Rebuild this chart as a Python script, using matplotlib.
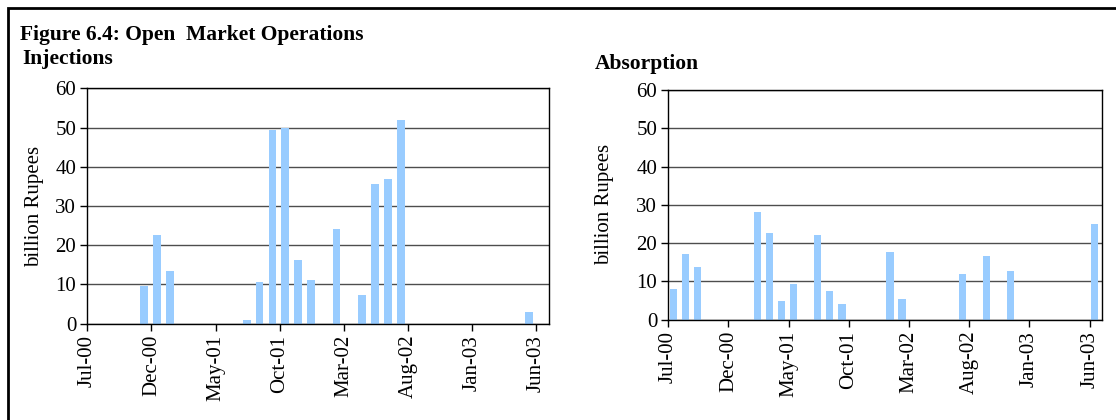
import pandas as pd
import matplotlib
matplotlib.use('Agg')
import matplotlib.pyplot as plt
from matplotlib.patches import Rectangle

plt.rcParams['font.family'] = ['Liberation Serif', 'DejaVu Serif']

# monthly axis: Jul-00 .. Jun-03
start = pd.Period('2000-07', freq='M')
tick_labels = ['Jul-00', 'Dec-00', 'May-01', 'Oct-01', 'Mar-02', 'Aug-02', 'Jan-03', 'Jun-03']

inj_months = ['2000-11', '2000-12', '2001-01', '2001-07', '2001-08', '2001-09', '2001-10',
              '2001-11', '2001-12', '2002-02', '2002-04', '2002-05', '2002-06', '2002-07', '2003-05']
inj_values = [9.6, 22.6, 13.4, 0.9, 10.6, 49.4, 49.9, 16.2, 11.1, 24.1, 7.3, 35.6, 36.9, 52.0, 3.0]

abs_months = ['2000-07', '2000-08', '2000-09', '2001-02', '2001-03', '2001-04', '2001-05', '2001-07',
              '2001-08', '2001-09', '2002-01', '2002-02', '2002-07', '2002-09', '2002-11', '2003-06']
abs_values = [8.0, 17.2, 13.8, 28.1, 22.6, 4.9, 9.3, 22.1, 7.5, 4.1, 17.7, 5.4, 11.9, 16.6, 12.7, 25.0]

BAR_COLOR = '#99ccff'
W, H = 1116, 420


def month_pos(months):
    return [(pd.Period(m, freq='M') - start).n + 0.42 for m in months]


def draw_panel(ax, months, values, label_x):
    ax.bar(month_pos(months), values, width=0.6, color=BAR_COLOR, zorder=2)
    ax.set_xlim(0, 36)
    ax.set_ylim(0, 60)
    ax.set_yticks(range(0, 61, 10))
    ax.set_xticks(range(0, 36, 5))
    ax.set_xticklabels(tick_labels, rotation=90)
    ax.yaxis.grid(True, color='#4d4d4d', linewidth=1.0, zorder=1)
    ax.set_axisbelow(True)
    for s in ax.spines.values():
        s.set_linewidth(1.0)
        s.set_color('black')
    ax.tick_params(axis='both', labelsize=15, length=5, width=1, direction='out', pad=3)
    ax.set_ylabel('billion Rupees', fontsize=15)
    ax.yaxis.set_label_coords(label_x, 0.5)


fig = plt.figure(figsize=(W / 100, H / 100), dpi=100)

ax1 = fig.add_axes([87.3 / W, (H - 323.7) / H, 462 / W, 235.4 / H])
draw_panel(ax1, inj_months, inj_values, (44 - 87.3) / 462)

ax2 = fig.add_axes([668.3 / W, (H - 319.7) / H, 433.4 / W, 229.7 / H])
draw_panel(ax2, abs_months, abs_values, (614 - 668.3) / 433.4)

# outer frame (runs off the right and bottom of the image)
fig.patches.append(Rectangle((8 / W, -0.1), 1.2, (H - 8) / H + 0.1, transform=fig.transFigure,
                             fill=False, edgecolor='black', linewidth=2))

fig.text(20 / W, (H - 35) / H, 'Figure 6.4: Open  Market Operations', fontsize=15.5,
         fontweight='bold', va='center', ha='left')
fig.text(22 / W, (H - 59) / H, 'Injections', fontsize=15.5, fontweight='bold', va='center', ha='left')
fig.text(595 / W, (H - 64) / H, 'Absorption', fontsize=15.5, fontweight='bold', va='center', ha='left')

fig.savefig('out.png', dpi=100)
